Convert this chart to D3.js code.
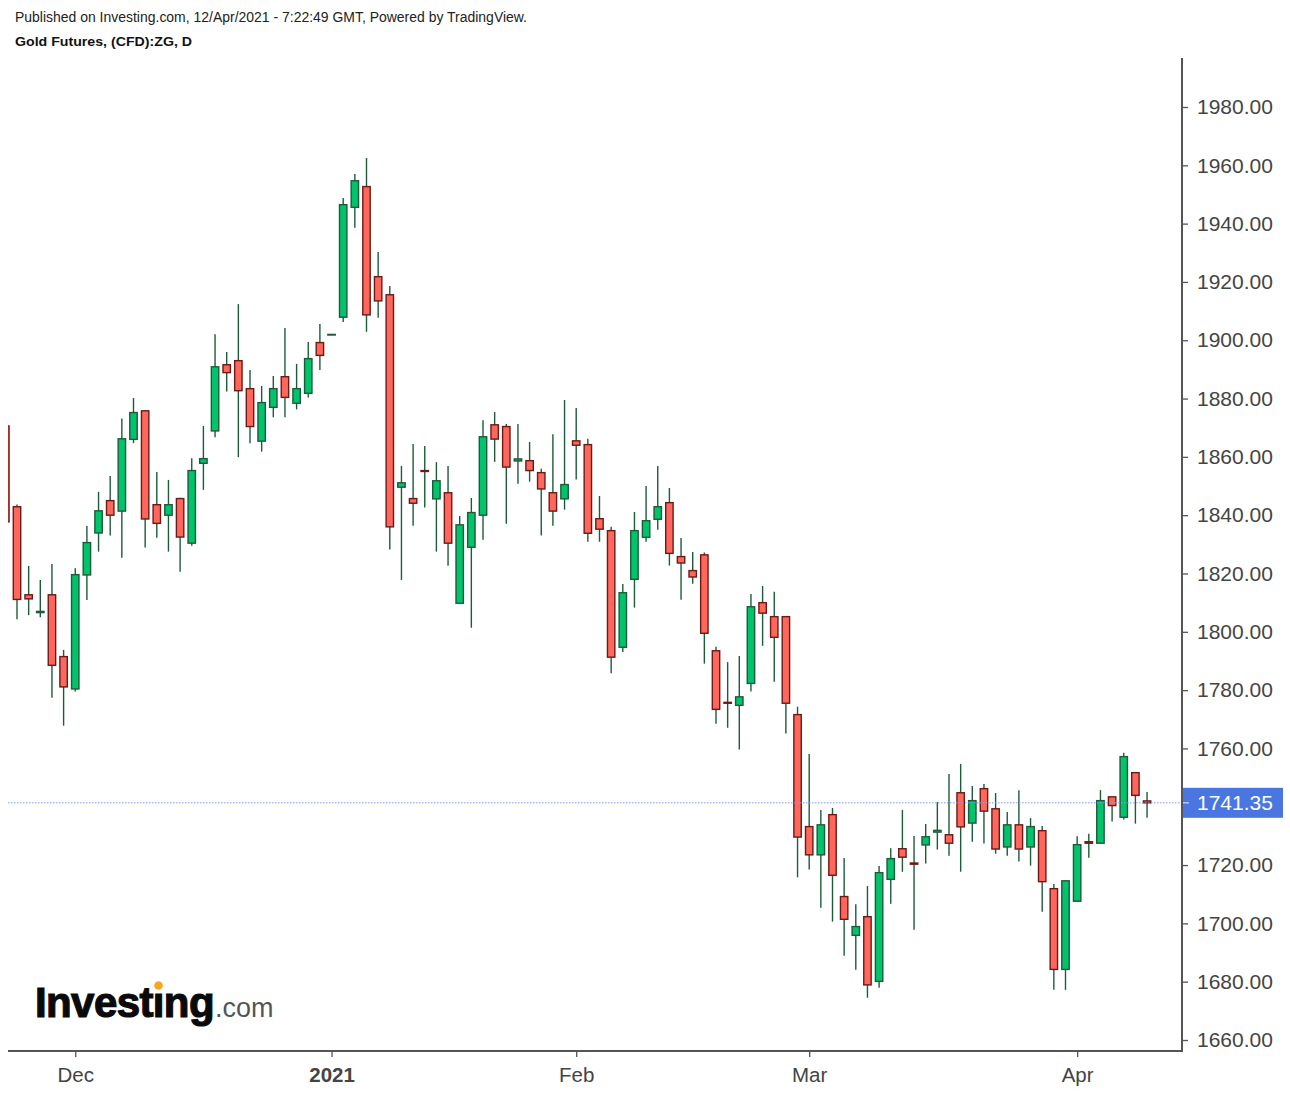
<!DOCTYPE html>
<html><head><meta charset="utf-8">
<script src="https://cdn.jsdelivr.net/npm/d3@7"></script>
<style>
html,body{margin:0;padding:0;background:#fff;}
svg{display:block;font-family:"Liberation Sans",Arial,sans-serif;}
</style></head>
<body>
<svg id="chart" width="1290" height="1094"></svg>
<script>
// ---- data ----
const dates = [
 "2020-11-23","2020-11-24","2020-11-25","2020-11-26","2020-11-27","2020-11-30",
 "2020-12-01","2020-12-02","2020-12-03","2020-12-04",
 "2020-12-07","2020-12-08","2020-12-09","2020-12-10","2020-12-11",
 "2020-12-14","2020-12-15","2020-12-16","2020-12-17","2020-12-18",
 "2020-12-21","2020-12-22","2020-12-23","2020-12-24",
 "2020-12-28","2020-12-29","2020-12-30","2020-12-31","2021-01-01",
 "2021-01-04","2021-01-05","2021-01-06","2021-01-07","2021-01-08",
 "2021-01-11","2021-01-12","2021-01-13","2021-01-14","2021-01-15",
 "2021-01-18","2021-01-19","2021-01-20","2021-01-21","2021-01-22",
 "2021-01-25","2021-01-26","2021-01-27","2021-01-28","2021-01-29",
 "2021-02-01","2021-02-02","2021-02-03","2021-02-04","2021-02-05",
 "2021-02-08","2021-02-09","2021-02-10","2021-02-11","2021-02-12",
 "2021-02-15","2021-02-16","2021-02-17","2021-02-18","2021-02-19",
 "2021-02-22","2021-02-23","2021-02-24","2021-02-25","2021-02-26",
 "2021-03-01","2021-03-02","2021-03-03","2021-03-04","2021-03-05",
 "2021-03-08","2021-03-09","2021-03-10","2021-03-11","2021-03-12",
 "2021-03-15","2021-03-16","2021-03-17","2021-03-18","2021-03-19",
 "2021-03-22","2021-03-23","2021-03-24","2021-03-25","2021-03-26",
 "2021-03-29","2021-03-30","2021-03-31","2021-04-01","2021-04-02",
 "2021-04-05","2021-04-06","2021-04-07","2021-04-08","2021-04-09"
];
const open = [1870.6,1842.9,1812.7,1806.6,1812.7,1791.5,1780.4,1819.5,1833.9,1845.0,
 1841.4,1866.0,1875.8,1843.6,1840.0,1845.7,1830.4,1857.8,1868.9,1891.6,
 1893.0,1883.4,1865.4,1877.0,1887.5,1878.4,1881.8,1899.2,1901.8,1907.9,
 1945.6,1952.7,1921.8,1915.6,1849.6,1845.7,1855.3,1845.6,1847.7,1809.8,
 1829.0,1840.0,1871.0,1870.4,1858.6,1858.7,1854.6,1847.7,1845.6,1865.5,
 1864.2,1838.8,1834.7,1794.7,1818.0,1832.4,1838.6,1844.3,1825.8,1821.0,
 1826.4,1793.5,1775.8,1774.8,1782.3,1810.0,1805.2,1805.2,1771.6,1733.2,
 1723.5,1737.3,1709.2,1695.9,1702.3,1680.1,1715.1,1725.6,1720.7,1726.9,
 1731.3,1730.4,1744.8,1734.4,1746.2,1739.3,1726.2,1733.8,1726.2,1731.8,
 1711.9,1684.2,1707.6,1728.0,1727.5,1743.4,1736.4,1751.7,1742.0];
const high = [1872.0,1843.7,1822.6,1817.8,1823.3,1793.8,1821.8,1836.3,1848.0,1853.4,
 1873.2,1880.2,1876.0,1854.8,1852.1,1846.0,1859.5,1870.6,1902.1,1896.0,
 1912.4,1889.8,1884.3,1887.7,1904.2,1891.9,1899.4,1905.6,1902.0,1948.8,
 1957.0,1962.5,1930.3,1918.6,1856.9,1864.4,1863.7,1858.2,1856.9,1839.7,
 1845.9,1872.6,1875.4,1871.3,1871.3,1865.1,1855.9,1867.8,1879.5,1876.8,
 1866.2,1846.6,1836.0,1816.4,1841.1,1850.0,1856.9,1849.3,1832.2,1827.4,
 1827.2,1794.9,1789.6,1791.7,1813.0,1815.7,1813.7,1805.2,1774.3,1758.1,
 1738.9,1739.6,1722.4,1706.6,1712.8,1719.7,1725.8,1738.9,1730.0,1734.1,
 1741.6,1751.2,1754.7,1747.1,1747.8,1744.7,1738.2,1745.7,1736.1,1733.4,
 1713.5,1714.6,1729.9,1730.7,1745.7,1743.4,1758.5,1751.7,1745.1];
const low = [1835.0,1804.3,1805.7,1805.0,1777.4,1767.8,1779.5,1810.9,1827.5,1833.0,
 1825.4,1864.7,1828.9,1832.3,1827.5,1820.6,1829.5,1848.7,1866.7,1882.4,
 1859.9,1864.7,1861.8,1873.6,1873.6,1876.3,1880.4,1889.8,1901.8,1906.3,
 1938.6,1902.9,1907.7,1828.2,1817.8,1836.4,1842.6,1827.5,1822.7,1809.8,
 1801.4,1831.6,1858.3,1837.1,1850.8,1851.5,1833.0,1836.4,1841.9,1852.2,
 1830.9,1830.9,1785.8,1793.1,1808.3,1830.9,1835.0,1822.7,1811.0,1816.5,
 1789.1,1768.5,1767.1,1759.6,1779.5,1795.2,1782.9,1765.1,1715.8,1718.5,
 1705.4,1700.6,1688.9,1684.1,1674.5,1677.9,1706.7,1717.7,1697.8,1720.5,
 1725.3,1723.2,1717.7,1728.0,1727.4,1723.9,1723.2,1721.2,1719.8,1704.0,
 1677.2,1677.2,1707.6,1722.5,1727.5,1734.9,1735.6,1734.2,1736.2];
const close = [1837.7,1811.1,1811.3,1807.0,1788.5,1781.1,1819.6,1830.6,1841.5,1840.0,
 1866.2,1875.2,1838.7,1837.2,1843.6,1832.5,1855.3,1859.4,1890.9,1888.9,
 1882.7,1870.4,1878.6,1883.4,1880.4,1883.4,1893.7,1894.8,1902.0,1946.5,
 1954.7,1908.7,1913.5,1836.0,1851.1,1844.1,1855.0,1851.8,1830.4,1836.7,
 1840.9,1866.9,1866.1,1856.5,1859.3,1855.3,1849.0,1841.4,1850.5,1864.0,
 1833.8,1835.2,1791.3,1813.4,1834.7,1838.1,1842.9,1826.9,1823.6,1818.8,
 1799.5,1773.4,1775.5,1777.7,1808.6,1806.4,1798.1,1775.5,1729.6,1723.5,
 1733.8,1716.5,1701.4,1698.9,1678.9,1717.4,1722.2,1722.7,1720.3,1729.7,
 1731.9,1727.5,1733.1,1742.1,1738.5,1725.5,1733.8,1725.5,1733.2,1714.3,
 1684.2,1714.6,1727.0,1727.5,1742.1,1740.4,1757.2,1743.9,1741.35];
// 1740.00 is hidden behind the last-price label in the reference
const yTicks = [1660,1680,1700,1720,1760,1780,1800,1820,1840,1860,1880,1900,1920,1940,1960,1980];
const xTickDates = ["2020-12-01","2021-01-01","2021-02-01","2021-03-01","2021-04-01"];
const xTickLabels = ["Dec","2021","Feb","Mar","Apr"];
const lastPrice = 1741.35;
const headerLine1 = "Published on Investing.com, 12/Apr/2021 - 7:22:49 GMT, Powered by TradingView.";
const headerLine2 = "Gold Futures, (CFD):ZG, D";

// ---- layout ----
const plotL = 8, plotR = 1182, plotT = 58, plotB = 1051;
const svg = d3.select("#chart");

const candles = dates.map((d,i)=>({d, o:open[i], h:high[i], l:low[i], c:close[i]}));

const x = d3.scalePoint().domain(dates).range([5.35, 5.35 + 11.65*(dates.length-1)]);
const y = d3.scaleLinear().domain([1660,1980]).range([1040,107]);

const GREEN="#00c46c", GREEN_D="#1d5b3a", RED="#ff665c", RED_D="#6a1b16";

// header
svg.append("text").attr("x",15).attr("y",22).attr("font-size",14).attr("fill","#222")
  .attr("textLength",512).attr("lengthAdjust","spacingAndGlyphs").text(headerLine1);
svg.append("text").attr("x",15).attr("y",46).attr("font-size",13.5).attr("font-weight","bold").attr("fill","#111")
  .attr("textLength",177).attr("lengthAdjust","spacingAndGlyphs").text(headerLine2);

// clip
svg.append("defs").append("clipPath").attr("id","clip")
  .append("rect").attr("x",plotL).attr("y",plotT).attr("width",plotR-plotL).attr("height",plotB-plotT);

// logo
const logo = svg.append("g");
const lt = logo.append("text").attr("x",35).attr("y",1017).attr("font-size",42).attr("font-weight","bold")
  .attr("fill","#0a0a0a").attr("stroke","#0a0a0a").attr("stroke-width",1.2).attr("letter-spacing",-0.6).text("Investing");
const lt2 = logo.append("text").attr("y",1017).attr("font-size",27).attr("fill","#555").text(".com");
const wInv = lt.node().getComputedTextLength();
lt2.attr("x",35 + wInv + 1);
try {
  const pre = lt.node().getSubStringLength(0,6), wi = lt.node().getSubStringLength(6,1);
  const cx = 35 + pre + wi/2 - 0.3;
  logo.append("rect").attr("x",cx-6).attr("y",980).attr("width",12).attr("height",11).attr("fill","#fff");
  logo.append("circle").attr("cx",cx+0.5).attr("cy",985.5).attr("r",4.3).attr("fill","#f5a623");
} catch(e) {}

// candles
const g = svg.append("g").attr("clip-path","url(#clip)");
const bw = 7.4;
g.selectAll("line.wick").data(candles).join("line").attr("class","wick")
  .attr("x1",d=>x(d.d)).attr("x2",d=>x(d.d)).attr("y1",d=>y(d.h)).attr("y2",d=>y(d.l))
  .attr("stroke",GREEN_D).attr("stroke-width",1.4);
g.selectAll("rect.body").data(candles).join("rect").attr("class","body")
  .attr("x",d=>x(d.d)-bw/2).attr("width",bw)
  .attr("y",d=>y(Math.max(d.o,d.c)))
  .attr("height",d=>Math.max(0.6, Math.abs(y(d.o)-y(d.c))))
  .attr("fill",d=>d.c>=d.o?GREEN:RED)
  .attr("stroke",d=>d.c>=d.o?GREEN_D:RED_D).attr("stroke-width",1.4);

// last price line
svg.append("line").attr("x1",plotL).attr("x2",plotR).attr("y1",y(lastPrice)).attr("y2",y(lastPrice))
  .attr("stroke","#7f9cf0").attr("stroke-width",1).attr("stroke-dasharray","1.5,1.5");

// axes
const yAxis = d3.axisRight(y).tickValues(yTicks).tickFormat(d3.format(".2f")).tickSize(6).tickPadding(9);
const ya = svg.append("g").attr("transform",`translate(${plotR},0)`).call(yAxis);
ya.select(".domain").remove();
ya.selectAll(".tick line").attr("stroke","#555").attr("stroke-width",1.3);
ya.selectAll(".tick text").attr("font-size",21).attr("fill","#444").attr("font-family","Liberation Sans, Arial, sans-serif");

const xAxis = d3.axisBottom(x).tickValues(xTickDates).tickFormat((d,i)=>xTickLabels[i]).tickSize(6).tickPadding(10);
const xa = svg.append("g").attr("transform",`translate(0,${plotB})`).call(xAxis);
xa.select(".domain").remove();
xa.selectAll(".tick line").attr("stroke","#555").attr("stroke-width",1.3);
xa.selectAll(".tick text").attr("font-size",20.5).attr("fill","#444").attr("font-family","Liberation Sans, Arial, sans-serif")
  .attr("font-weight",(d,i)=>xTickLabels[i]==="2021"?"bold":"normal");

svg.append("line").attr("x1",plotL).attr("x2",plotR+1).attr("y1",plotB).attr("y2",plotB).attr("stroke","#555").attr("stroke-width",2);
svg.append("line").attr("x1",plotR).attr("x2",plotR).attr("y1",plotT).attr("y2",plotB+1).attr("stroke","#555").attr("stroke-width",2);

// last price label
const ly = y(lastPrice);
svg.append("rect").attr("x",plotR+1).attr("y",ly-15).attr("width",100).attr("height",30).attr("fill","#4a76e2");
svg.append("line").attr("x1",plotR+1).attr("x2",plotR+7).attr("y1",ly).attr("y2",ly).attr("stroke","#c8d4f7").attr("stroke-width",1.3);
svg.append("text").attr("x",plotR+15).attr("y",ly).attr("dy","0.36em").attr("font-size",21).attr("fill","#fff").text(lastPrice.toFixed(2));
</script>
</body></html>
